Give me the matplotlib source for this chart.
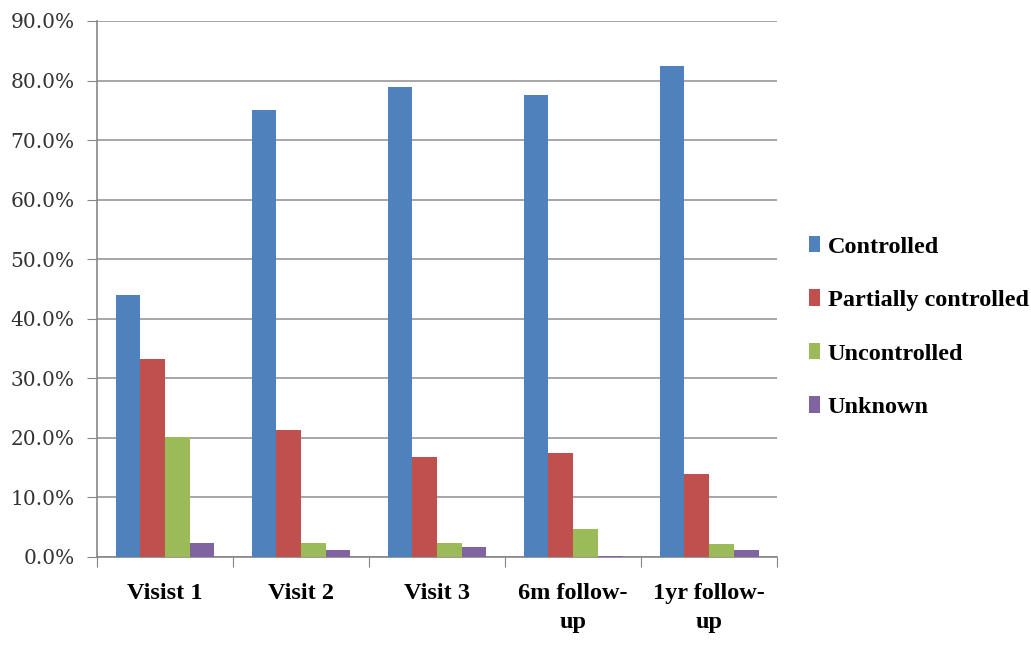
import numpy as np
import matplotlib
matplotlib.use("Agg")
import matplotlib.pyplot as plt
from matplotlib.ticker import PercentFormatter, FixedLocator

# ── Data (percent of patients) ──
categories = ["Visist 1", "Visit 2", "Visit 3", "6m follow-\nup", "1yr follow-\nup"]
series_names = ["Controlled", "Partially controlled", "Uncontrolled", "Unknown"]
controlled = [44.0, 75.0, 79.0, 77.5, 82.5]
partially = [33.3, 21.3, 16.8, 17.5, 14.0]
uncontrolled = [20.1, 2.3, 2.3, 4.7, 2.2]
unknown = [2.4, 1.1, 1.7, 0.15, 1.2]
colors = ["#4F81BD", "#C0504D", "#9BBB59", "#8064A2"]

values = [controlled, partially, uncontrolled, unknown]

fig = plt.figure(figsize=(10.31, 6.46), dpi=100)
ax = fig.add_axes([0.0941, 0.1378, 0.6596, 0.8297])

n = len(series_names)
width = 1.0 / (n + 1.5)  # Excel-like gap width 150%
x = np.arange(len(categories))
for i, (name, vals, c) in enumerate(zip(series_names, values, colors)):
    offs = (i - (n - 1) / 2) * width
    ax.bar(x + offs, vals, width, color=c, label=name, zorder=3)

ax.set_xlim(-0.5, len(categories) - 0.5)
ax.set_ylim(0, 90)
ax.set_yticks(np.arange(0, 91, 10))
ax.yaxis.set_major_formatter(PercentFormatter(decimals=1))
ax.yaxis.grid(True, color="#a6a6a6", linewidth=1.4, zorder=0)

# category boundaries as tick marks, labels in the middle
ax.xaxis.set_major_locator(FixedLocator(np.arange(-0.5, len(categories), 1.0)))
ax.set_xticklabels([])
ax.set_xticks(x, minor=True)
ax.set_xticklabels(categories, minor=True, fontsize=17.5, fontweight="bold",
                   family="Liberation Serif", linespacing=1.45)
ax.tick_params(axis="x", which="minor", length=0, pad=19)
ax.tick_params(axis="x", which="major", length=7, color="#868686", direction="out")
ax.tick_params(axis="y", length=7, color="#868686", pad=9, labelsize=14.5,
               labelcolor="#333333")
for lab in ax.get_yticklabels():
    lab.set_family("DejaVu Serif")

for side in ["top", "right"]:
    ax.spines[side].set_visible(False)
for side in ["left", "bottom"]:
    ax.spines[side].set_color("#868686")
    ax.spines[side].set_linewidth(1.2)

leg = fig.legend(loc="center left", bbox_to_anchor=(0.785, 0.494), frameon=False,
                 prop={"family": "Liberation Serif", "weight": "bold", "size": 17.5},
                 handlelength=0.45, handleheight=0.68, handletextpad=0.3,
                 labelspacing=1.3, borderpad=0, borderaxespad=0)

fig.savefig("out.png", dpi=100)
